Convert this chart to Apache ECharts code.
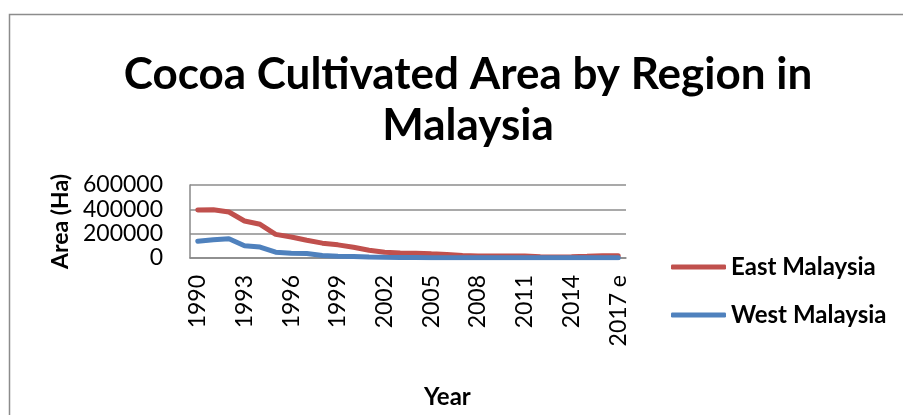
<!DOCTYPE html>
<html>
<head>
<meta charset="utf-8">
<script src="https://cdn.jsdelivr.net/npm/echarts@6/dist/echarts.min.js"></script>
<style>
html,body{margin:0;padding:0;background:#fff;}
#chart{width:903px;height:415px;}
</style>
</head>
<body>
<div id="chart"></div>
<script>
const years = ['1990','1991','1992','1993','1994','1995','1996','1997','1998','1999','2000','2001','2002','2003','2004','2005','2006','2007','2008','2009','2010','2011','2012','2013','2014','2015','2016','2017 e'];
const eastMalaysia = [394000, 397000, 378000, 304000, 277000, 194000, 173000, 146000, 122000, 108000, 88000, 64000, 48000, 42000, 40000, 34000, 29000, 21000, 16000, 16000, 16000, 17000, 10000, 9000, 11000, 14000, 18000, 18000];
const westMalaysia = [138000, 150000, 158000, 101000, 90000, 48000, 40000, 37000, 21000, 15000, 12000, 8000, 6000, 5000, 4000, 3000, 3000, 3000, 2000, 2000, 2000, 2000, 2000, 2000, 2000, 2000, 2000, 2000];

const FONT = 'Lato, "Open Sans", sans-serif';
const chart = echarts.init(document.getElementById('chart'), null, {renderer: 'canvas'});
chart.setOption({
  animation: false,
  backgroundColor: '#ffffff',
  title: {
    text: 'Cocoa Cultivated Area by Region in\nMalaysia',
    left: 463,
    top: 44,
    textAlign: 'center',
    textStyle: {fontFamily: FONT, fontWeight: 'bold', fontSize: 44, lineHeight: 51, color: '#000'}
  },
  graphic: [
    {type: 'rect', shape: {x: 9.5, y: 14.5, width: 1000, height: 500}, style: {fill: 'none', stroke: '#8c8c8c', lineWidth: 1.5}, z: -1},
    {type: 'text', left: 424, top: 385, style: {text: 'Year', fontFamily: FONT, fontWeight: 'bold', fontSize: 24, fill: '#000'}}
  ],
  legend: {
    orient: 'vertical',
    left: 666,
    top: 250,
    itemGap: 24,
    itemWidth: 55,
    itemHeight: 5,
    icon: 'roundRect',
    textStyle: {fontFamily: FONT, fontWeight: 'bold', fontSize: 24, color: '#000'},
    data: ['East Malaysia', 'West Malaysia']
  },
  grid: {left: 190, right: 277, top: 185, bottom: 157},
  xAxis: {
    type: 'category',
    data: years,
    boundaryGap: true,
    axisLine: {show: true, lineStyle: {color: '#888', width: 1.5}},
    axisTick: {show: false},
    axisLabel: {interval: 2, rotate: 90, margin: 17, fontFamily: FONT, fontSize: 23, color: '#000'}
  },
  yAxis: {
    type: 'value',
    min: 0,
    max: 600000,
    interval: 200000,
    name: 'Area (Ha)',
    nameLocation: 'middle',
    nameRotate: 90,
    nameGap: 118,
    nameTextStyle: {fontFamily: FONT, fontWeight: 'bold', fontSize: 23, color: '#000'},
    axisLine: {show: true, lineStyle: {color: '#888', width: 1.5}},
    axisTick: {show: false},
    axisLabel: {margin: 27, fontFamily: FONT, fontSize: 23, color: '#000', formatter: function (v) { return String(v); }},
    splitLine: {show: true, lineStyle: {color: '#8c8c8c', width: 1.5}}
  },
  series: [
    {name: 'East Malaysia', type: 'line', data: eastMalaysia, symbol: 'none', lineStyle: {color: '#C0504D', width: 5, cap: 'round'}, itemStyle: {color: '#C0504D'}},
    {name: 'West Malaysia', type: 'line', data: westMalaysia, symbol: 'none', lineStyle: {color: '#4F81BD', width: 5, cap: 'round'}, itemStyle: {color: '#4F81BD'}}
  ]
});
</script>
</body>
</html>
